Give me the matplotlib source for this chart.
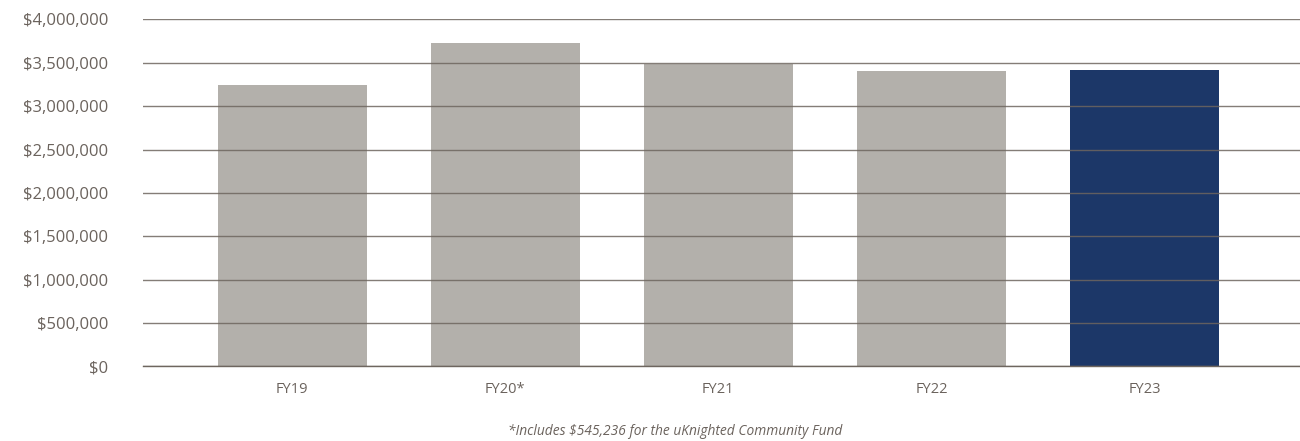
import matplotlib as mpl
mpl.use('Agg')
import matplotlib.pyplot as plt
from matplotlib.ticker import FuncFormatter

# Data
years = ['FY19', 'FY20*', 'FY21', 'FY22', 'FY23']
amounts = [3243000, 3727000, 3490000, 3404000, 3416000]
barColors = ['#b3b0ab', '#b3b0ab', '#b3b0ab', '#b3b0ab', '#1c3768']
yTicks = [0, 500000, 1000000, 1500000, 2000000, 2500000, 3000000, 3500000, 4000000]
footnote = '*Includes $545,236 for the uKnighted Community Fund'

textColor = '#6b635d'
plt.rcParams['font.family'] = ['Open Sans', 'DejaVu Sans']

fig = plt.figure(figsize=(13, 4.41), dpi=100)
ax = fig.add_axes([0.11, 0.169, 0.89, 0.787])

x = list(range(len(years)))
ax.bar(x, amounts, width=0.70, color=barColors, zorder=1)

# Gridlines sit on top of the bars
ax.set_yticks(yTicks)
ax.set_ylim(0, 4000000)
ax.set_xlim(-0.70, 4.73)
ax.yaxis.grid(True, color='#6e665f', linewidth=1.0, alpha=0.85, zorder=3)
ax.set_axisbelow(False)

ax.yaxis.set_major_formatter(FuncFormatter(lambda v, p: '${:,.0f}'.format(v)))
ax.set_xticks(x)
ax.set_xticklabels(years)
ax.tick_params(axis='y', length=0, pad=25, labelsize=12, labelcolor=textColor)
ax.tick_params(axis='x', length=0, pad=11, labelsize=10.5, labelcolor=textColor)

for s in ['top', 'right', 'left']:
    ax.spines[s].set_visible(False)
ax.spines['bottom'].set_color('#6e665f')
ax.spines['bottom'].set_linewidth(1.0)
ax.spines['bottom'].set_zorder(4)

fig.text(0.519, 0.004, footnote, ha='center', va='bottom', fontsize=9.9,
         style='italic', color=textColor)

fig.savefig('out.png', dpi=100)
